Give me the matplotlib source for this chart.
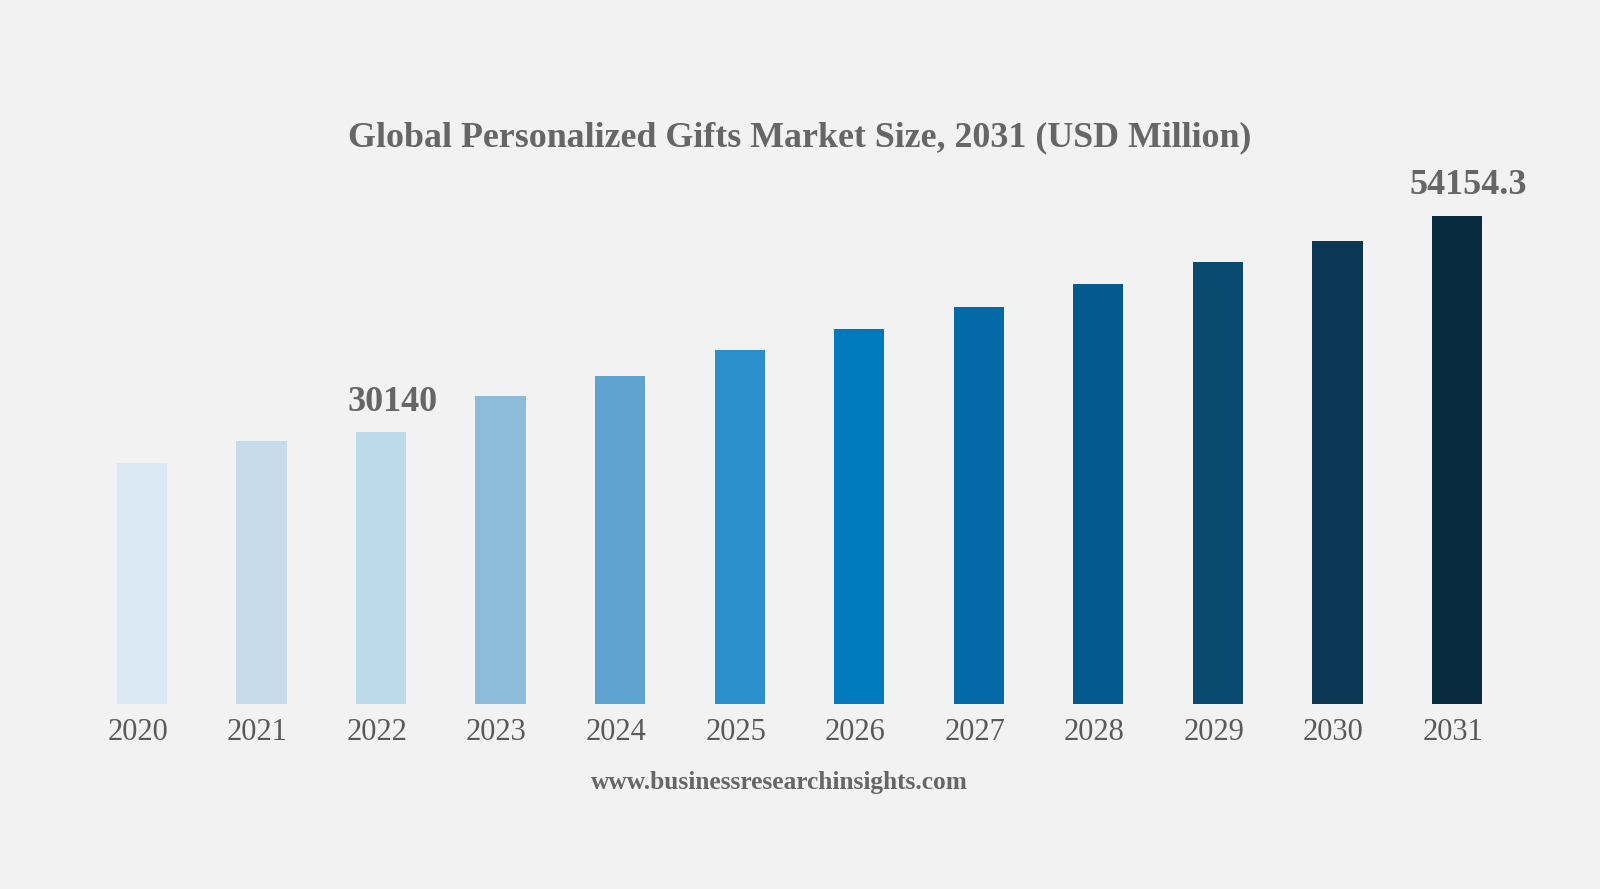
import matplotlib.pyplot as plt
from matplotlib.transforms import ScaledTranslation

years = ['2020', '2021', '2022', '2023', '2024', '2025',
         '2026', '2027', '2028', '2029', '2030', '2031']
values = [26777, 29185, 30140, 34179, 36398, 39283,
          41558, 44011, 46607, 49016, 51412, 54154.3]
labels = {2: '30140', 11: '54154.3'}

colors = ['#dbe9f5', '#c6dcea', '#bcdaea', '#8dbcda', '#5fa3d0', '#2b8fcb',
          '#0079bd', '#046aa7', '#045a8d', '#0a4a70', '#0b3754', '#082b40']

bg = '#f2f2f2'
plt.rcParams['font.family'] = ['Liberation Serif', 'DejaVu Serif']

fig = plt.figure(figsize=(16, 8.89), dpi=100, facecolor=bg)
ax = fig.add_axes([0.0513, 0.2081, 0.8967, 0.6082])
ax.set_facecolor(bg)

x = range(len(years))
ax.bar(x, values, width=0.42, color=colors, edgecolor='none')

# value labels above the two highlighted bars
for i, txt in labels.items():
    ax.annotate(txt, (i, values[i]), xytext=(8, 10), textcoords='offset points',
                ha='center', va='bottom', fontsize=26, fontweight='bold',
                color='#666666')

ax.set_xlim(-0.5, len(years) - 0.5)
ax.set_ylim(0, 60000)
ax.set_xticks(list(x))
ax.set_xticklabels(years, fontsize=22, color='#5a5a5a')
ax.tick_params(axis='x', length=0, pad=10)
shift = ScaledTranslation(-4 / 100, 0, fig.dpi_scale_trans)
for lab in ax.get_xticklabels():
    lab.set_transform(lab.get_transform() + shift)
ax.set_yticks([])
for s in ax.spines.values():
    s.set_visible(False)

fig.text(0.5, 0.845, 'Global Personalized Gifts Market Size, 2031 (USD Million)',
         ha='center', va='center', fontsize=25.8, fontweight='bold', color='#666666')
fig.text(0.487, 0.12, 'www.businessresearchinsights.com',
         ha='center', va='center', fontsize=18.3, fontweight='bold', color='#666666')

fig.savefig('out.png', dpi=100, facecolor=bg)
